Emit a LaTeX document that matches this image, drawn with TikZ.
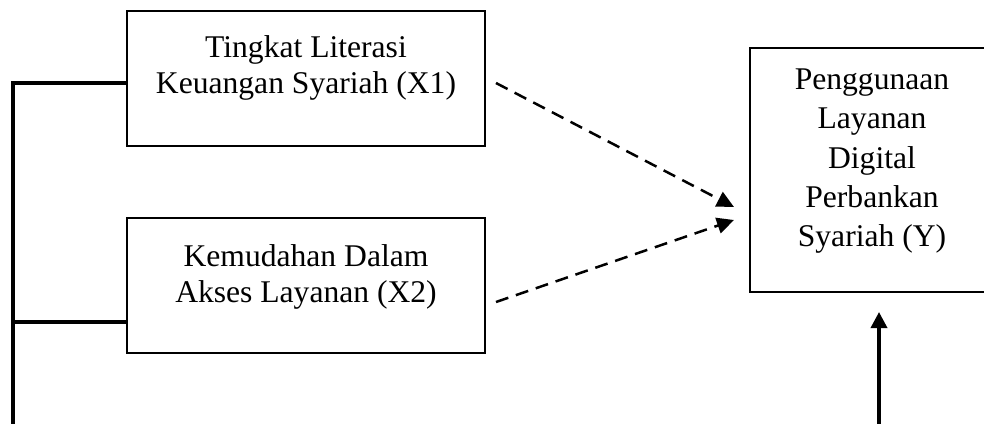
\documentclass[tikz,border=0pt]{standalone}
\usepackage{fontspec}
\setmainfont{Liberation Serif}
\usetikzlibrary{arrows.meta}

\tikzset{
  box/.style={draw,line width=1.25pt,minimum width=179pt,minimum height=67.5pt,inner sep=0pt},
  boxtext/.style={anchor=north,align=center,inner sep=0pt,font=\fontsize{15.8}{18.2}\selectfont},
  link/.style={line width=1.75pt},
  dashlink/.style={line width=1.25pt,dash pattern=on 6.5pt off 4pt,-{Triangle[length=8.5pt,width=8pt]}},
}

\begin{document}
\begin{tikzpicture}[x=0.5pt,y=-0.5pt]
  \useasboundingbox (0,0) rectangle (984,423);

  % variables
  \node[box] (x1) at (306,78.5) {};
  \node[box] (x2) at (306,285.5) {};
  \node[box,minimum width=135pt,minimum height=122pt] (y) at (885,170) {};

  \node[boxtext] (x1t) at ([yshift=-12.5pt]x1.north) {Tingkat Literasi\\Keuangan Syariah (X1)};
  \node[boxtext] (x2t) at ([yshift=-13.5pt]x2.north) {Kemudahan Dalam\\Akses Layanan (X2)};
  \node[boxtext,font=\fontsize{15.8}{19.6}\selectfont] (yt) at ([xshift=-6.5pt,yshift=-10.9pt]y.north)
    {Penggunaan\\Layanan\\Digital\\Perbankan\\Syariah (Y)};

  % left bracket
  \coordinate (top) at (13,83);
  \coordinate (mid) at (13,322);
  \coordinate (bot) at (13,430);
  \draw[link] (bot) -- (top) -- (top -| x1.west);
  \draw[link] (mid) -- (mid -| x2.west);

  % partial effects
  \coordinate (d1) at (496,83);
  \coordinate (d2) at (496,302);
  \coordinate (e1) at (734,207);
  \coordinate (e2) at (734,220);
  \draw[dashlink] (d1) -- (e1);
  \draw[dashlink] (d2) -- (e2);

  % joint effect
  \coordinate (j1) at (879,430);
  \coordinate (j2) at (879,312);
  \draw[link,-{Triangle[length=8pt,width=8pt]}] (j1) -- (j2);
\end{tikzpicture}
\end{document}
